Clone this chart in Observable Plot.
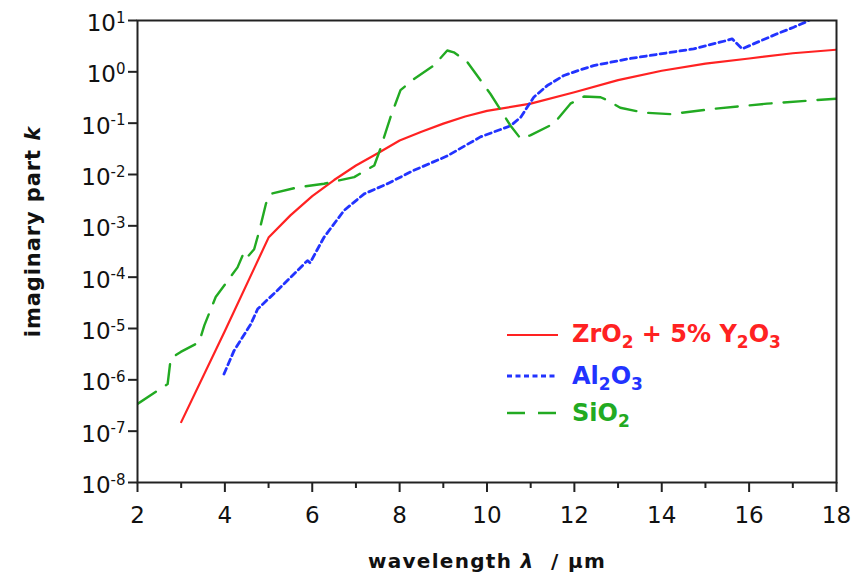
<!DOCTYPE html>
<html><head><meta charset="utf-8">
<script src="https://cdn.jsdelivr.net/npm/d3@7"></script>
<script src="https://cdn.jsdelivr.net/npm/@observablehq/plot@0.6"></script>
<style>
html,body{margin:0;padding:0;background:#fff;}
#chart svg{display:block;}
</style></head><body><div id="chart"></div>
<script>
// ZrO2 + 5% Y2O3 (solid red)
const zrX = [3, 4, 5, 5.5, 6, 6.5, 7, 7.5, 8, 8.5, 9, 9.5, 10, 11, 12, 13, 14, 15, 16, 17, 18];
const zrK = [1.5e-7, 8.9e-6, 5.9e-4, 1.6e-3, 3.8e-3, 7.8e-3, 1.5e-2, 2.6e-2, 4.6e-2, 6.8e-2, 9.8e-2, 0.135, 0.174, 0.24, 0.40, 0.69, 1.05, 1.45, 1.82, 2.3, 2.7];
// Al2O3 (dotted blue)
const alX = [3.98, 4.21, 4.59, 4.75, 5.2, 5.89, 5.95, 6.27, 6.73, 7.19, 7.72, 8.32, 9.09, 9.85, 10.54, 10.77, 11.07, 11.38, 11.76, 12.1, 12.44, 13.21, 13.97, 14.73, 15.5, 15.61, 15.84, 16.1, 16.64, 17.02, 17.29, 17.45];
const alK = [1.3e-6, 3.7e-6, 1.2e-5, 2.4e-5, 5.5e-5, 2.1e-4, 1.9e-4, 6.0e-4, 2.0e-3, 4.2e-3, 6.6e-3, 1.2e-2, 2.3e-2, 5.4e-2, 8.9e-2, 0.13, 0.32, 0.54, 0.85, 1.07, 1.32, 1.78, 2.24, 2.8, 4.1, 4.4, 2.8, 3.5, 5.5, 7.4, 9.3, 11];
// SiO2 (dashed green)
const siX = [2.0, 2.69, 2.76, 2.99, 3.41, 3.53, 3.79, 4.29, 4.44, 4.52, 4.67, 4.79, 4.94, 5.05, 5.66, 6.27, 6.96, 7.42, 7.55, 7.79, 8.02, 8.32, 8.78, 9.09, 9.24, 9.55, 10.08, 10.54, 10.77, 10.99, 11.53, 11.91, 12.22, 12.6, 12.75, 13.05, 13.59, 14.2, 15.19, 16.41, 18];
const siK = [3.4e-7, 8.3e-7, 2.6e-6, 3.5e-6, 5.4e-6, 1.15e-5, 4.1e-5, 1.55e-4, 3.1e-4, 2.5e-4, 3.5e-4, 8.1e-4, 2.7e-3, 4.2e-3, 5.6e-3, 6.6e-3, 8.9e-3, 1.5e-2, 3.0e-2, 0.13, 0.44, 0.72, 1.32, 2.6, 2.4, 1.55, 0.37, 0.089, 0.050, 0.058, 0.098, 0.24, 0.33, 0.32, 0.28, 0.20, 0.16, 0.15, 0.19, 0.24, 0.30];

const xMajorTicks = [2, 4, 6, 8, 10, 12, 14, 16, 18];
const xMinorTicks = [3, 5, 7, 9, 11, 13, 15, 17];
const yTicks = [1e-8, 1e-7, 1e-6, 1e-5, 1e-4, 1e-3, 1e-2, 1e-1, 1e0, 1e1];
const yTickExponents = ["-8", "-7", "-6", "-5", "-4", "-3", "-2", "-1", "0", "1"];
const seriesNames = ["ZrO2 + 5% Y2O3", "Al2O3", "SiO2"];
const seriesColors = ["#ff2222", "#2233ff", "#22aa22"];
const xLabel = "wavelength λ / µm";
const yLabel = "imaginary part k";

const toRows = (xs, ks) => xs.map((x, i) => ({x, k: ks[i]}));
const font = "'DejaVu Sans', sans-serif";

const chart = Plot.plot({
  width: 865, height: 574,
  marginLeft: 137, marginRight: 29, marginTop: 20, marginBottom: 92,
  style: {fontFamily: font, background: "#fff", color: "#111", overflow: "visible"},
  x: {domain: [2, 18]},
  y: {type: "log", domain: [1e-8, 10]},
  marks: [
    Plot.line(toRows(zrX, zrK), {x: "x", y: "k", stroke: seriesColors[0], strokeWidth: 2.2, clip: true}),
    Plot.line(toRows(alX, alK), {x: "x", y: "k", stroke: seriesColors[1], strokeWidth: 2.8, strokeDasharray: "6,4", clip: true}),
    Plot.line(toRows(siX, siK), {x: "x", y: "k", stroke: seriesColors[2], strokeWidth: 2.4, strokeDasharray: "22,12", clip: true}),
    Plot.axisX({ticks: xMajorTicks, tickSize: 10, tickPadding: 14, fontSize: 23, strokeWidth: 2, stroke: "#222", label: null, tickFormat: d => String(d)}),
    Plot.axisX({ticks: xMinorTicks, tickSize: 6, strokeWidth: 2, stroke: "#222", label: null, tickFormat: () => ""}),
    Plot.axisY({ticks: yTicks, tickSize: 9, tickPadding: 3, fontSize: 23, strokeWidth: 2, stroke: "#222", label: null,
      tickFormat: d => yTickExponents[yTicks.indexOf(d)]}),
    Plot.frame({stroke: "#222", strokeWidth: 2}),
    Plot.text([xLabel], {text: d => d, frameAnchor: "bottom", textAnchor: "middle", lineAnchor: "middle", dy: 78.6, fontSize: 20, fontWeight: "bold", fill: "#111"}),
    Plot.text([yLabel], {text: d => d, frameAnchor: "left", textAnchor: "middle", lineAnchor: "middle", rotate: -90, dx: -104, dy: -20, fontSize: 21, fontWeight: "bold", fill: "#111"})
  ]
});
document.getElementById("chart").appendChild(chart);

const svg = d3.select(chart);
// y tick labels: "10" with superscript exponent
svg.selectAll('g[aria-label="y-axis tick label"] text').each(function() {
  const t = d3.select(this);
  const e = t.text();
  t.text("").attr("y", "0.46em");
  t.append("tspan").text("10");
  t.append("tspan").attr("font-size", 15).attr("dy", -8.5).text(e);
});
// axis labels with italic symbols
svg.selectAll("text").each(function() {
  const t = d3.select(this);
  const s = t.text();
  if (s === xLabel) {
    t.text("").attr("letter-spacing", 1.3).style("white-space", "pre");
    t.append("tspan").text("wavelength ");
    t.append("tspan").attr("font-style", "italic").text("λ");
    t.append("tspan").text("  / µm");
  } else if (s === yLabel) {
    t.text("").attr("letter-spacing", 0.9);
    t.append("tspan").text("imaginary part ");
    t.append("tspan").attr("font-style", "italic").text("k");
  }
});
// legend
const legendRows = [
  {lineY: 335, textY: 342, dash: null, width: 2.2},
  {lineY: 376, textY: 384, dash: "5,3.5", width: 2.8},
  {lineY: 413, textY: 421, dash: "18,13", width: 2.4}
];
const lg = svg.append("g").attr("font-family", font).attr("font-weight", "bold").attr("font-size", 24).attr("text-anchor", "start");
seriesNames.forEach((name, i) => {
  const r = legendRows[i];
  lg.append("line").attr("x1", 507).attr("x2", 558).attr("y1", r.lineY).attr("y2", r.lineY)
    .attr("stroke", seriesColors[i]).attr("stroke-width", r.width).attr("stroke-dasharray", r.dash);
  const t = lg.append("text").attr("x", 572).attr("y", r.textY).attr("fill", seriesColors[i]).attr("text-anchor", "start").style("white-space", "pre");
  let buf = "", sub = false;
  const flush = () => {
    if (!buf) return;
    const ts = t.append("tspan").text(buf);
    if (sub) ts.attr("font-size", 17).attr("dy", 6);
    buf = "";
  };
  for (let c = 0; c < name.length; c++) {
    const ch = name[c];
    const isSub = /\d/.test(ch) && c > 0 && /[A-Za-z]/.test(name[c - 1]);
    if (isSub !== sub) {
      flush();
      if (!isSub) {
        sub = false;
        t.append("tspan").attr("dy", -6).text(ch);
        continue;
      }
      sub = isSub;
    }
    buf += ch;
  }
  flush();
});
</script>
</body></html>
